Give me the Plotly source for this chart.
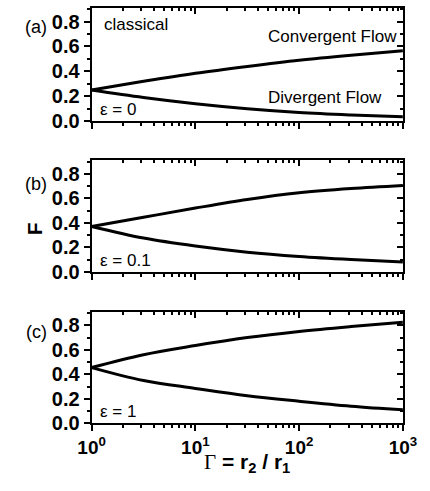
import plotly.graph_objects as go

# ---- data ----
gamma = [1, 3.162, 10, 31.62, 100, 316.2, 1000]
conv_a = [0.25, 0.32, 0.385, 0.44, 0.49, 0.53, 0.565]
div_a = [0.25, 0.19, 0.14, 0.10, 0.07, 0.05, 0.035]
conv_b = [0.37, 0.445, 0.52, 0.59, 0.645, 0.68, 0.705]
div_b = [0.37, 0.275, 0.21, 0.16, 0.125, 0.10, 0.08]
conv_c = [0.455, 0.56, 0.635, 0.70, 0.75, 0.79, 0.825]
div_c = [0.455, 0.35, 0.285, 0.225, 0.18, 0.14, 0.11]

panel_labels = ["(a)", "(b)", "(c)"]
eps_labels = ["ε = 0", "ε = 0.1", "ε = 1"]
x_tickvals = [1, 10, 100, 1000]
x_ticktext = ["10<sup>0</sup>", "10<sup>1</sup>", "10<sup>2</sup>", "10<sup>3</sup>"]
y_tickvals = [0.0, 0.2, 0.4, 0.6, 0.8]
y_ticktext = ["0.0", "0.2", "0.4", "0.6", "0.8"]

W, H = 430, 491
FONT = "Arial"

fig = go.Figure()
series = [(conv_a, div_a), (conv_b, div_b), (conv_c, div_c)]
for i, (cv, dv) in enumerate(series):
    xa = "x" if i == 0 else f"x{i+1}"
    ya = "y" if i == 0 else f"y{i+1}"
    for vals in (cv, dv):
        fig.add_trace(go.Scatter(x=gamma, y=vals, mode="lines", xaxis=xa, yaxis=ya,
                                 line=dict(color="black", width=3, shape="spline"),
                                 showlegend=False, hoverinfo="skip"))

# pixel layout
px_left, px_right = 83, 416
panels_px = [(8, 124), (164, 278), (319, 433)]
xdom = [px_left / W, px_right / W]
yr = [0, 0.91]

layout = dict(width=W, height=H, margin=dict(l=0, r=0, t=0, b=0),
              paper_bgcolor="white", plot_bgcolor="white", showlegend=False)

ytickfont = dict(family=FONT, size=20, color="black", weight="bold")
xtickfont = dict(family=FONT, size=19, color="black", weight="bold")

for i, (top, bot) in enumerate(panels_px):
    n = i + 1
    xk = "xaxis" if n == 1 else f"xaxis{n}"
    yk = "yaxis" if n == 1 else f"yaxis{n}"
    ydom = [1 - bot / H, 1 - top / H]
    xname = "x" if n == 1 else f"x{n}"
    yname = "y" if n == 1 else f"y{n}"
    layout[xk] = dict(type="log", range=[0, 3], domain=xdom, anchor=yname,
                      showline=True, linecolor="black", linewidth=2, mirror=True,
                      showgrid=False, zeroline=False,
                      ticks="outside", ticklen=6, tickwidth=2, tickcolor="black",
                      tickvals=x_tickvals, ticktext=x_ticktext,
                      showticklabels=(n == 3), tickfont=xtickfont,
                      ticklabeloverflow="allow",
                      minor=dict(ticks="outside", ticklen=3, tickwidth=1.5, tickcolor="black",
                                 dtick="D1", showgrid=False))
    layout[yk] = dict(range=yr, domain=ydom, anchor=xname,
                      showline=True, linecolor="black", linewidth=2, mirror=True,
                      showgrid=False, zeroline=False,
                      ticks="outside", ticklen=6, tickwidth=2, tickcolor="black",
                      tickvals=y_tickvals, ticktext=y_ticktext, tickfont=ytickfont,
                      ticklabelstandoff=0,
                      minor=dict(ticks="outside", ticklen=3, tickwidth=1.5, tickcolor="black",
                                 dtick=0.1, showgrid=False))
    # secondary axes for inward ticks on top and right
    xk2 = f"xaxis{n+3}"
    yk2 = f"yaxis{n+3}"
    layout[xk2] = dict(type="log", range=[0, 3], overlaying=xname, anchor=yname, side="top",
                       showline=False, showgrid=False, zeroline=False,
                       ticks="inside", ticklen=6, tickwidth=2, tickcolor="black",
                       tickvals=x_tickvals, showticklabels=False,
                       minor=dict(ticks="inside", ticklen=3, tickwidth=1.5, tickcolor="black",
                                  dtick="D1", showgrid=False))
    layout[yk2] = dict(range=yr, overlaying=yname, anchor=xname, side="right",
                       showline=False, showgrid=False, zeroline=False,
                       ticks="inside", ticklen=6, tickwidth=2, tickcolor="black",
                       tickvals=y_tickvals, showticklabels=False,
                       minor=dict(ticks="inside", ticklen=3, tickwidth=1.5, tickcolor="black",
                                  dtick=0.1, showgrid=False))
    # invisible traces so secondary axes render
    fig.add_trace(go.Scatter(x=[1, 1000], y=[0, 0.9], mode="markers", marker=dict(opacity=0),
                             xaxis=f"x{n+3}", yaxis=f"y{n+3}", showlegend=False, hoverinfo="skip"))

fig.update_layout(**layout)

ann = []
txtfont = dict(family=FONT, size=17, color="black")
label_y_px = [28, 188, 340]
for i in range(3):
    n = i + 1
    xname = "x" if n == 1 else f"x{n}"
    yname = "y" if n == 1 else f"y{n}"
    ann.append(dict(text=panel_labels[i], xref="paper", yref="paper", x=24 / W, y=1 - label_y_px[i] / H,
                    showarrow=False, xanchor="center", yanchor="middle", font=dict(family=FONT, size=18, color="black")))
    ann.append(dict(text=eps_labels[i], xref=xname, yref=yname, x=0.06, y=0.095,
                    showarrow=False, xanchor="left", yanchor="middle", font=txtfont))
ann.append(dict(text="classical", xref="x", yref="y", x=0.1, y=0.78, showarrow=False,
                xanchor="left", yanchor="middle", font=txtfont))
ann.append(dict(text="Convergent Flow", xref="x", yref="y", x=1.68, y=0.68, showarrow=False,
                xanchor="left", yanchor="middle", font=txtfont))
ann.append(dict(text="Divergent Flow", xref="x", yref="y", x=1.68, y=0.19, showarrow=False,
                xanchor="left", yanchor="middle", font=txtfont))
ann.append(dict(text='<span style="font-family:Liberation Serif;font-weight:normal">Γ</span> = r<sub>2</sub> / r<sub>1</sub>',
                xref="paper", yref="paper", x=(px_left + px_right) / 2 / W, y=1 - 474 / H,
                showarrow=False, xanchor="center", yanchor="middle",
                font=dict(family=FONT, size=21, color="black", weight="bold")))
ann.append(dict(text="F", xref="paper", yref="paper", x=22 / W, y=1 - 234 / H, textangle=-90,
                showarrow=False, xanchor="center", yanchor="middle",
                font=dict(family=FONT, size=21, color="black", weight="bold")))
fig.update_layout(annotations=ann)

fig.write_html("out.html")
